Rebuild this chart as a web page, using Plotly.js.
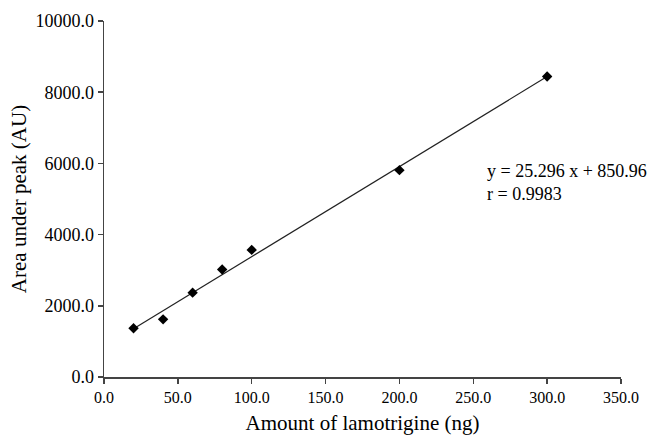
<!DOCTYPE html>
<html>
<head>
<meta charset="utf-8">
<script src="https://cdn.plot.ly/plotly-3.0.1.min.js"></script>
<style>html,body{margin:0;padding:0;background:#fff;}#chart{width:653px;height:435px;}</style>
</head>
<body>
<div id="chart"></div>
<script>
// Data
const amountNg = [20, 40, 60, 80, 100, 200, 300];
const areaAU = [1370, 1620, 2370, 3020, 3570, 5810, 8440];
// Regression line as stated on the chart
const slope = 25.296;
const intercept = 850.96;
const trendX = [20, 300];
const trendY = trendX.map(x => slope * x + intercept);
const eqLabel = "y = 25.296 x + 850.96";
const rLabel = "r = 0.9983";
const xTickVals = [0, 50, 100, 150, 200, 250, 300, 350];
const yTickVals = [0, 2000, 4000, 6000, 8000, 10000];

const font = "Liberation Serif, Times New Roman, serif";

const traces = [
  {x: trendX, y: trendY, mode: 'lines', line: {color: '#222', width: 1.2}, hoverinfo: 'skip'},
  {x: amountNg, y: areaAU, mode: 'markers', marker: {symbol: 'diamond', size: 8, color: '#000'}}
];

const layout = {
  width: 653, height: 435,
  margin: {l: 103.5, r: 32, t: 21, b: 58},
  paper_bgcolor: '#fff', plot_bgcolor: '#fff',
  showlegend: false,
  font: {family: font, size: 16, color: '#000'},
  xaxis: {
    range: [0, 350], tickvals: xTickVals, tickformat: '.1f',
    showgrid: false, zeroline: false, showline: true, linecolor: '#444', linewidth: 1.5,
    ticks: 'outside', ticklen: 5, tickcolor: '#444', tickwidth: 1.5,
    tickfont: {family: font, size: 16, color: '#000'},
    title: {text: 'Amount of lamotrigine (ng)', font: {family: font, size: 21, color: '#000'}, standoff: 10}
  },
  yaxis: {
    range: [0, 10000], tickvals: yTickVals, tickformat: '.1f',
    showgrid: false, zeroline: false, showline: true, linecolor: '#444', linewidth: 1.5,
    ticks: 'outside', ticklen: 5, tickcolor: '#444', tickwidth: 1.5,
    tickfont: {family: font, size: 18, color: '#000'},
    title: {text: 'Area under peak (AU)', font: {family: font, size: 21, color: '#000'}, standoff: 3}
  },
  annotations: [
    {x: 258, y: 5795, xref: 'x', yref: 'y', text: eqLabel, showarrow: false, xanchor: 'left', yanchor: 'middle', font: {family: font, size: 18, color: '#000'}},
    {x: 258, y: 5140, xref: 'x', yref: 'y', text: rLabel, showarrow: false, xanchor: 'left', yanchor: 'middle', font: {family: font, size: 18, color: '#000'}}
  ]
};

Plotly.newPlot('chart', traces, layout, {displayModeBar: false, staticPlot: true});
</script>
</body>
</html>
